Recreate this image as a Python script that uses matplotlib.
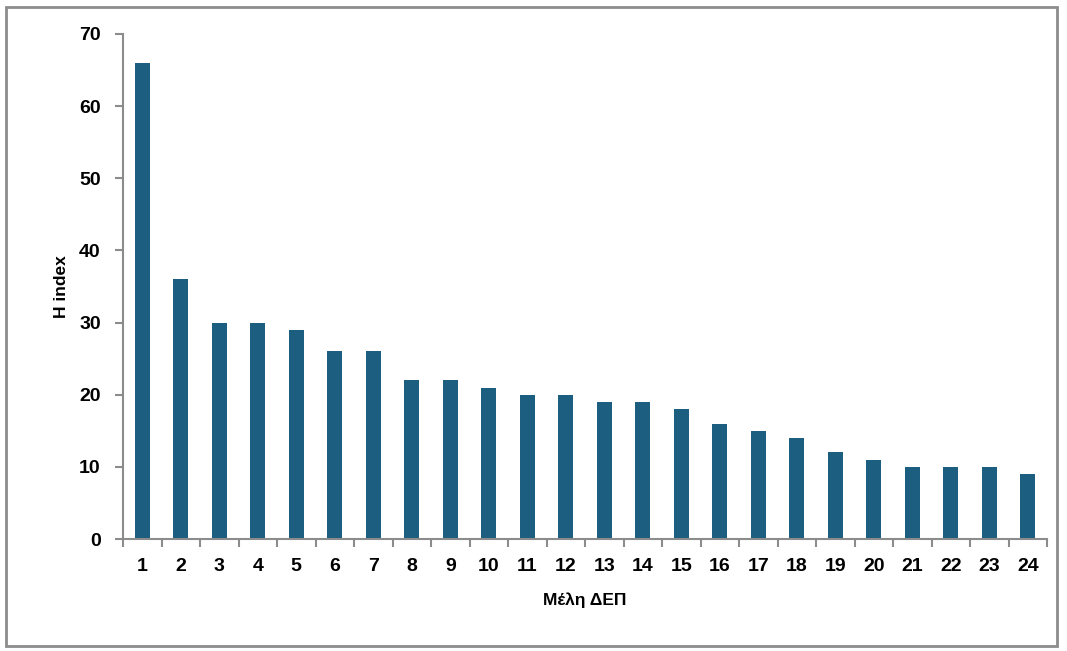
import matplotlib
matplotlib.use("Agg")
import matplotlib.pyplot as plt
from matplotlib.patches import Rectangle
import numpy as np

categories = [str(i) for i in range(1, 25)]
h_index = [66, 36, 30, 30, 29, 26, 26, 22, 22, 21, 20, 20, 19, 19, 18, 16, 15, 14, 12, 11, 10, 10, 10, 9]
y_ticks = [0, 10, 20, 30, 40, 50, 60, 70]

plt.rcParams['font.family'] = ['Liberation Sans', 'DejaVu Sans']

fig = plt.figure(figsize=(10.67, 6.51), dpi=100)
ax = fig.add_axes([123/1067, 1 - 539/651, (1047 - 123)/1067, (539 - 34)/651])

x = np.arange(len(categories))
ax.bar(x, h_index, width=0.4, color='#1b5e80', zorder=2)

ax.set_xlim(-0.5, len(categories) - 0.5)
ax.set_ylim(0, 70)
ax.set_yticks(y_ticks)
ax.set_yticklabels([str(v) for v in y_ticks], fontsize=14, fontweight='bold')

ax.set_xticks(x)
ax.set_xticklabels(categories, fontsize=14, fontweight='bold')
ax.tick_params(axis='x', which='major', length=0, pad=14)
ax.set_xticks(np.arange(-0.5, len(categories)), minor=True)
ax.tick_params(axis='x', which='minor', length=6, width=1.5, color='#8c8c8c', direction='out')
ax.tick_params(axis='y', length=6, width=1.5, color='#8c8c8c', direction='out', pad=10)

for s in ['top', 'right']:
    ax.spines[s].set_visible(False)
for s in ['left', 'bottom']:
    ax.spines[s].set_color('#8c8c8c')
    ax.spines[s].set_linewidth(1.5)

ax.set_ylabel('H index', fontsize=12.5, fontweight='bold', labelpad=7)
ax.set_xlabel('Μέλη ΔΕΠ', fontsize=12.5, fontweight='bold', labelpad=12)

fig.patches.append(Rectangle((6/1067, 1 - 646/651), (1057 - 6)/1067, (646 - 7)/651,
                             transform=fig.transFigure, fill=False,
                             edgecolor='#8c8c8c', linewidth=2))

fig.savefig('out.png', dpi=100)
